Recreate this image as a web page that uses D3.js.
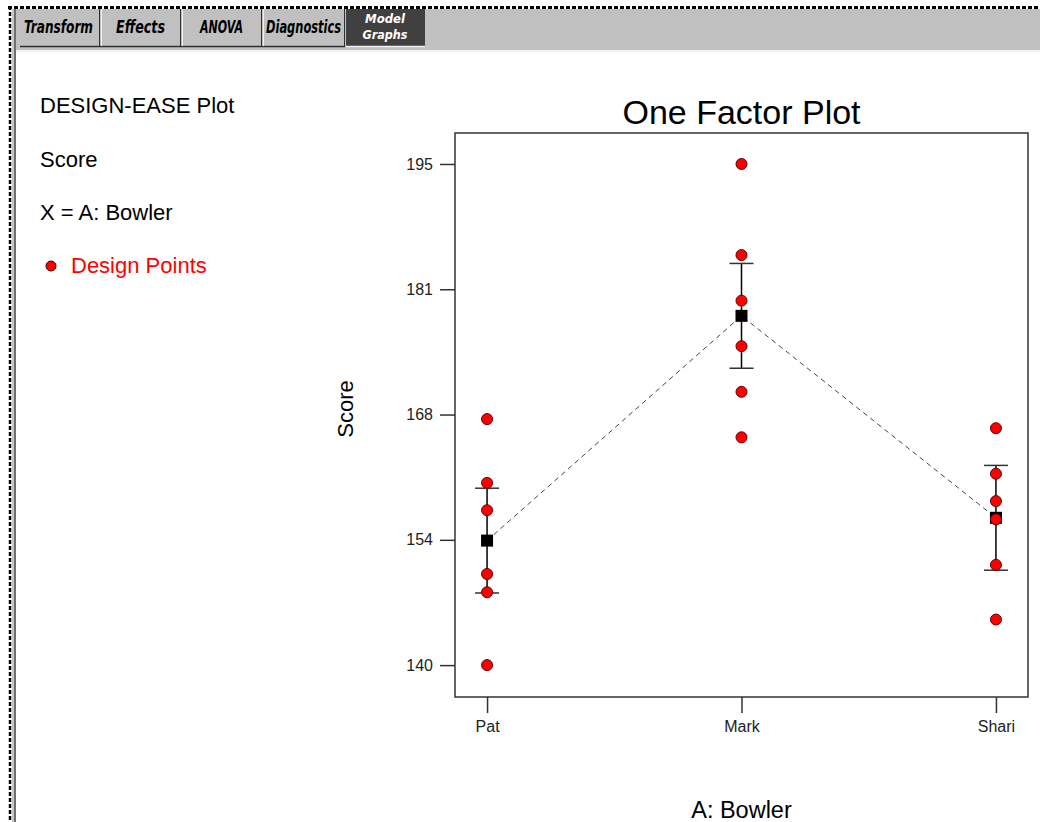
<!DOCTYPE html>
<html>
<head>
<meta charset="utf-8">
<script src="https://cdn.jsdelivr.net/npm/d3@7"></script>
<style>
  html, body { margin: 0; padding: 0; background: #ffffff; }
  svg { display: block; }
</style>
</head>
<body>
<svg id="chart" width="1040" height="822"></svg>
<script>
// ---------------- data ----------------
const bowlers = ["Pat", "Mark", "Shari"];
const patScores = [167, 160, 157, 150, 148, 140];
const markScores = [195, 185, 180, 175, 170, 165];
const shariScores = [166, 161, 158, 156, 151, 145];
const lsdHalfWidth = [5.75, 5.75, 5.75];
const yTickValues = [140, 153.75, 167.5, 181.25, 195];
const yTickLabels = ["140", "154", "168", "181", "195"];
const tabNames = ["Transform", "Effects", "ANOVA", "Diagnostics", "Model Graphs"];
const legendLines = ["DESIGN-EASE Plot", "Score", "X = A: Bowler"];

const scoresByBowler = [patScores, markScores, shariScores];
const means = scoresByBowler.map(s => d3.mean(s));

// ---------------- layout ----------------
const svg = d3.select("#chart");
const W = 1040, H = 822;
const plot = { left: 455, right: 1028, top: 133, bottom: 697 };
const FONT = "'Liberation Sans', Arial, sans-serif";
const TABFONT = "'DejaVu Sans Condensed', 'DejaVu Sans', sans-serif";

// ---------------- window chrome ----------------
svg.append("rect").attr("x", 12).attr("y", 9).attr("width", W - 12).attr("height", 41).attr("fill", "#c0c0c0");
svg.append("rect").attr("x", 16).attr("y", 50).attr("width", W - 16).attr("height", 2).attr("fill", "#f2f2f2");
svg.append("line").attr("x1", 8).attr("x2", W).attr("y1", 7.5).attr("y2", 7.5)
  .attr("stroke", "#000").attr("stroke-width", 3).attr("stroke-dasharray", "4,2");
svg.append("line").attr("x1", 10).attr("x2", 10).attr("y1", 6).attr("y2", H)
  .attr("stroke", "#000").attr("stroke-width", 2.5).attr("stroke-dasharray", "4,2");
svg.append("rect").attr("x", 12).attr("y", 9).attr("width", 2).attr("height", H - 9).attr("fill", "#c8c8c8");
svg.append("rect").attr("x", 14).attr("y", 9).attr("width", 2).attr("height", H - 9).attr("fill", "#707070");

// tabs
const tabEdges = [17, 100, 181, 262, 345, 425];
const tabTextWidths = [69, 49, 43, 75];
svg.append("line").attr("x1", 20).attr("x2", 345).attr("y1", 46.5).attr("y2", 46.5)
  .attr("stroke", "#303030").attr("stroke-width", 1.5);

function tabText(t, xx, yy, size, w, fill) {
  svg.append("text").attr("x", xx).attr("y", yy).attr("text-anchor", "middle")
    .attr("font-family", TABFONT).attr("font-weight", "bold").attr("font-style", "italic")
    .attr("font-size", size).attr("textLength", w).attr("lengthAdjust", "spacingAndGlyphs")
    .attr("fill", fill).text(t);
}

tabNames.forEach((name, i) => {
  const x0 = tabEdges[i], x1 = tabEdges[i + 1];
  const cx = (x0 + x1) / 2;
  const active = i === tabNames.length - 1;
  if (active) {
    svg.append("rect").attr("x", x0 + 1).attr("y", 9).attr("width", x1 - x0 - 1).attr("height", 37)
      .attr("fill", "#404040");
    svg.append("line").attr("x1", x0 + 1).attr("x2", x1).attr("y1", 46.5).attr("y2", 46.5)
      .attr("stroke", "#f0f0f0").attr("stroke-width", 1.5);
    const parts = name.split(" ");
    tabText(parts[0], cx, 22.5, 12.5, 40, "#ffffff");
    tabText(parts[1], cx, 38.5, 12.5, 45, "#ffffff");
  } else {
    svg.append("line").attr("x1", x1 - 0.5).attr("x2", x1 - 0.5).attr("y1", 9).attr("y2", 46)
      .attr("stroke", "#303030").attr("stroke-width", 1);
    svg.append("line").attr("x1", x1 + 1.5).attr("x2", x1 + 1.5).attr("y1", 9).attr("y2", 46)
      .attr("stroke", "#f0f0f0").attr("stroke-width", 1);
    tabText(name, cx, 33, 17, tabTextWidths[i], "#000000");
  }
});

// ---------------- legend text ----------------
const legendY = [113, 167, 220];
legendLines.forEach((t, i) => {
  svg.append("text").attr("x", 40).attr("y", legendY[i])
    .attr("font-family", FONT).attr("font-size", 22).attr("fill", "#000").text(t);
});
svg.append("circle").attr("cx", 51).attr("cy", 266).attr("r", 5)
  .attr("fill", "#ff0000").attr("stroke", "#400000").attr("stroke-width", 1);
svg.append("text").attr("x", 71).attr("y", 273)
  .attr("font-family", FONT).attr("font-size", 22).attr("fill", "#ff0000").text("Design Points");

// ---------------- scales ----------------
const x = d3.scalePoint().domain(bowlers).range([plot.left, plot.right]).padding(0.126);
const y = d3.scaleLinear().domain([136.5, 198.4]).range([plot.bottom, plot.top]);

// ---------------- title ----------------
svg.append("text").attr("x", (plot.left + plot.right) / 2).attr("y", 124)
  .attr("text-anchor", "middle").attr("font-family", FONT).attr("font-size", 34)
  .attr("fill", "#000").text("One Factor Plot");

// ---------------- axes ----------------
const yAxis = d3.axisLeft(y).tickValues(yTickValues)
  .tickFormat((d, i) => yTickLabels[i]).tickSize(15).tickPadding(7);
const gy = svg.append("g").attr("transform", `translate(${plot.left},0)`).call(yAxis);
gy.select(".domain").remove();
gy.selectAll(".tick line").attr("stroke", "#333").attr("stroke-width", 1.5);
gy.selectAll(".tick text").attr("font-family", FONT).attr("font-size", 16).attr("fill", "#222");

const xAxis = d3.axisBottom(x).tickSize(16).tickPadding(8);
const gx = svg.append("g").attr("transform", `translate(0,${plot.bottom})`).call(xAxis);
gx.select(".domain").remove();
gx.selectAll(".tick line").attr("stroke", "#333").attr("stroke-width", 1.5);
gx.selectAll(".tick text").attr("font-family", FONT).attr("font-size", 16).attr("fill", "#222");

svg.append("rect").attr("x", plot.left).attr("y", plot.top)
  .attr("width", plot.right - plot.left).attr("height", plot.bottom - plot.top)
  .attr("fill", "none").attr("stroke", "#333").attr("stroke-width", 1.5);

// axis titles
svg.append("text").attr("transform", `translate(353,409) rotate(-90)`)
  .attr("text-anchor", "middle").attr("font-family", FONT).attr("font-size", 22)
  .attr("fill", "#000").text("Score");
svg.append("text").attr("x", (plot.left + plot.right) / 2).attr("y", 818)
  .attr("text-anchor", "middle").attr("font-family", FONT).attr("font-size", 23.5)
  .attr("fill", "#000").text("A: Bowler");

// ---------------- marks ----------------
const line = d3.line().x((d, i) => x(bowlers[i])).y(d => y(d));
svg.append("path").datum(means).attr("d", line)
  .attr("fill", "none").attr("stroke", "#444").attr("stroke-width", 1)
  .attr("stroke-dasharray", "5,4");

bowlers.forEach((b, i) => {
  const cx = x(b);
  const lo = y(means[i] - lsdHalfWidth[i]);
  const hi = y(means[i] + lsdHalfWidth[i]);
  svg.append("line").attr("x1", cx).attr("x2", cx).attr("y1", lo).attr("y2", hi)
    .attr("stroke", "#000").attr("stroke-width", 1.5);
  [lo, hi].forEach(yy => {
    svg.append("line").attr("x1", cx - 12).attr("x2", cx + 12).attr("y1", yy).attr("y2", yy)
      .attr("stroke", "#333").attr("stroke-width", 1.5);
  });
});

svg.selectAll("rect.mean").data(means).enter().append("rect").attr("class", "mean")
  .attr("x", (d, i) => x(bowlers[i]) - 6).attr("y", d => y(d) - 6)
  .attr("width", 12).attr("height", 12).attr("fill", "#000");

bowlers.forEach((b, i) => {
  svg.selectAll(null).data(scoresByBowler[i]).enter().append("circle")
    .attr("cx", x(b)).attr("cy", d => y(d)).attr("r", 5.5)
    .attr("fill", "#ff0000").attr("stroke", "#600000").attr("stroke-width", 1);
});
</script>
</body>
</html>
